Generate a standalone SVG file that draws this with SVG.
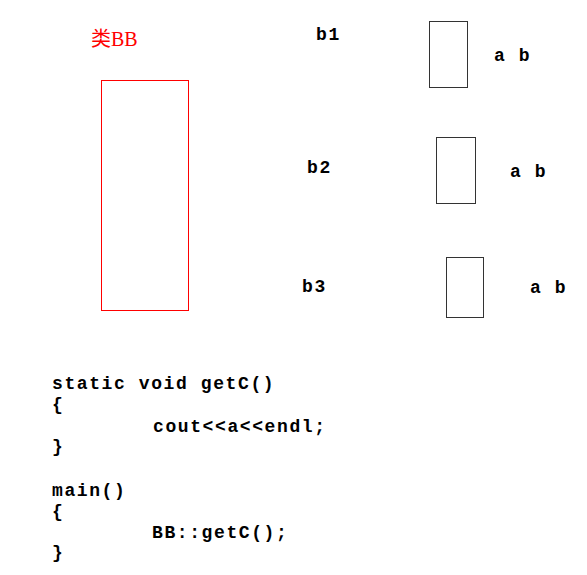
<svg xmlns="http://www.w3.org/2000/svg" width="587" height="575" viewBox="0 0 587 575">
<style>
.t{font-family:"Liberation Mono","DejaVu Sans Mono",monospace;font-weight:bold;font-size:18px;fill:#000;letter-spacing:1.6px}
.box{fill:none;stroke:#333;stroke-width:1}
</style>
<rect width="587" height="575" fill="#fff"/>
<g id="classBB">
<text x="91" y="46" font-family="'Liberation Serif','Noto Sans CJK SC',serif" font-size="20" fill="#f00">类BB</text>
<rect x="101.5" y="80.5" width="87" height="230" fill="none" stroke="#f00"/>
</g>
<g id="b1">
<text class="t" x="316" y="40">b1</text>
<rect class="box" x="429.5" y="21.5" width="38" height="66"/>
<text class="t" x="494" y="61">a b</text>
</g>
<g id="b2">
<text class="t" x="307" y="173">b2</text>
<rect class="box" x="436.5" y="137.5" width="39" height="66"/>
<text class="t" x="510" y="177">a b</text>
</g>
<g id="b3">
<text class="t" x="302" y="292">b3</text>
<rect class="box" x="446.5" y="257.5" width="37" height="60"/>
<text class="t" x="530" y="293">a b</text>
</g>
<g id="code">
<text class="t" x="52" y="389">static void getC()</text>
<text class="t" x="52" y="410">{</text>
<text class="t" x="153" y="432">cout&lt;&lt;a&lt;&lt;endl;</text>
<text class="t" x="52" y="452">}</text>
<text class="t" x="52" y="496">main()</text>
<text class="t" x="52" y="517">{</text>
<text class="t" x="152" y="538">BB::getC();</text>
<text class="t" x="52" y="558">}</text>
</g>
<g id="connectors"></g>
</svg>
